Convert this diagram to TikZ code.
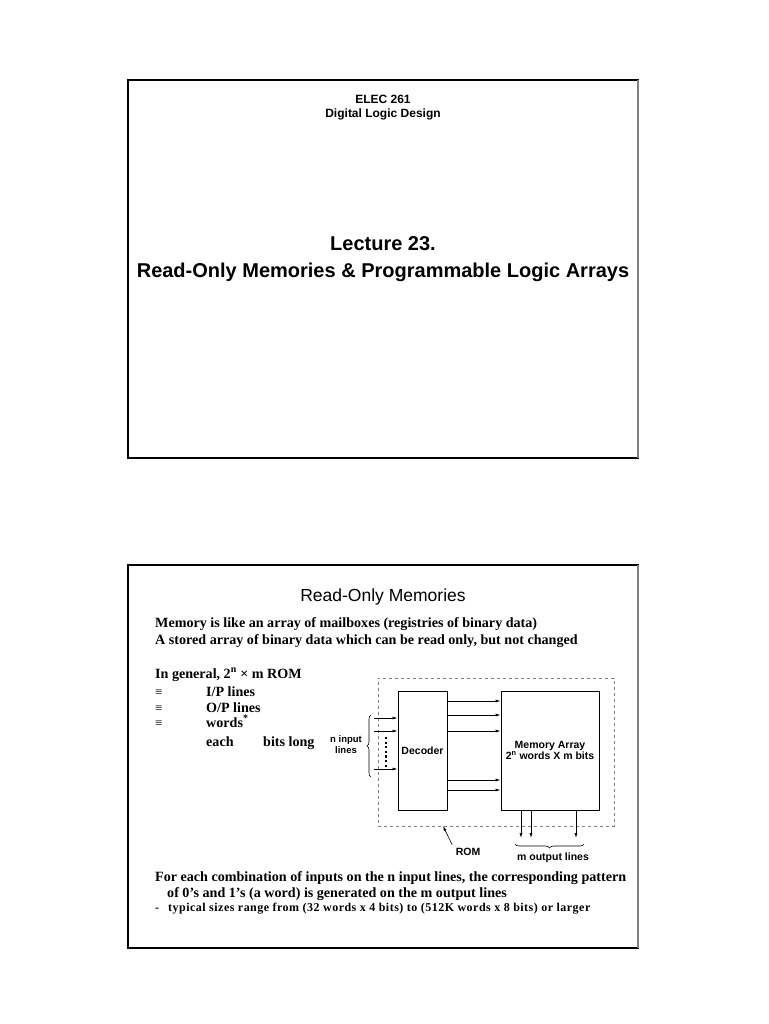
\documentclass[tikz,border=0pt]{standalone}
\usepackage{fontspec}
\setmainfont{Liberation Serif}
\newfontfamily\arial{Liberation Sans}
\usetikzlibrary{positioning,arrows.meta,decorations.pathreplacing}

\tikzset{
	frame/.style={line width=1.5pt},
	hd/.style={font=\arial\bfseries\fontsize{12}{14}\selectfont},
	big/.style={font=\arial\bfseries\fontsize{20}{24}\selectfont},
	txt/.style={anchor=base west,inner sep=0pt,font=\bfseries\fontsize{14.1}{16}\selectfont},
	small/.style={txt,font=\bfseries\fontsize{12}{14}\selectfont\addfontfeature{LetterSpace=4}},
	lbl/.style={font=\arial\bfseries\fontsize{10.5}{11}\selectfont},
	blk/.style={draw,line width=1pt,inner sep=0pt},
	arr/.style={-{Latex[length=5pt,width=3pt]},line width=0.6pt}
}

\begin{document}
\begin{tikzpicture}[x=1pt,y=-1pt]
	
	\useasboundingbox (0,0) rectangle (768,1024);
	
	\draw[frame] (128,80) rectangle (638,458);
	\draw[frame,gray] (638,80) -- (638,458);
	\draw[frame] (128,565) rectangle (638,948);
	\draw[frame,gray] (638,565) -- (638,948);
	
	\node[hd] (A) at (383,99) {ELEC 261};
	\node[hd] (B) at (383,114) {Digital Logic Design};
	\node[big] (C) at (383,244) {Lecture 23.};
	\node[big] (D) at (383,272) {Read-Only Memories \& Programmable Logic Arrays};
	
	\node[
	font=\arial\fontsize{17.5}{19}\selectfont
	]
	(E)
	at (383,597)
	{Read-Only Memories};
	
	\node[txt] (F) at (155,627) {Memory is like an array of mailboxes (registries of binary data)};
	\node[txt] (G) at (155,644) {A stored array of binary data which can be read only, but not changed};
	\node[txt] (H) at (155,678) {In general, 2\textsuperscript{n} × m ROM};
	\foreach \y in {696,712,727}
	\node[txt,font=\fontsize{13}{15}\selectfont] at (155,\y) {≡};
	\node[txt] (I) at (206,696) {I/P lines};
	\node[txt] (J) at (206,712) {O/P lines};
	\node[txt] (K) at (206,727) {words\textsuperscript{*}};
	\node[txt] (L) at (206,746) {each};
	\node[txt] (M) at (263,746) {bits long};
	
	\node[
	blk,
	dashed,
	draw=gray,
	line width=0.8pt,
	minimum width=236pt,
	minimum height=148pt
	]
	(R)
	at (496,752)
	{};
	
	\node[
	blk,
	lbl,
	minimum width=49pt,
	minimum height=119pt
	]
	(Dec)
	at (422.5,750.5)
	{Decoder};
	
	\node[
	blk,
	lbl,
	align=center,
	minimum width=98pt,
	minimum height=119pt
	]
	(Mem)
	at (550,750.5)
	{Memory Array\\2\textsuperscript{n} words X m bits};
	
	\foreach \y in {701,715,731,780,790}
	\draw[arr] (Dec.east |- 0,\y) -- (Mem.west |- 0,\y);
	
	\node[lbl,align=center,font=\arial\bfseries\fontsize{9.5}{11}\selectfont] (N) at (346,745) {n input\\lines};
	\coordinate (i1) at (374,718);
	\coordinate (i2) at (374,731);
	\coordinate (i3) at (374,769);
	\foreach \c in {i1,i2,i3}
	\draw[arr] (\c) -- (Dec.west |- \c);
	\coordinate (d1) at (386,737);
	\coordinate (d2) at (386,767);
	\draw[line width=2.2pt,dash pattern=on 2.2pt off 2.4pt] (d1) -- (d2);
	\coordinate (b1) at (371,777);
	\coordinate (b2) at (371,715);
	\draw[decorate,decoration={brace,amplitude=4pt},line width=0.6pt] (b1) -- (b2);
	
	\coordinate (o1) at (521,838);
	\coordinate (o2) at (531,838);
	\coordinate (o3) at (576,838);
	\foreach \c in {o1,o2,o3}
	\draw[arr] (Mem.south -| \c) -- (\c);
	\coordinate (b3) at (584,844);
	\coordinate (b4) at (515,844);
	\draw[decorate,decoration={brace,amplitude=4pt},line width=0.6pt] (b3) -- (b4);
	\node[lbl] (O) at (553,858) {m output lines};
	
	\node[lbl] (P) at (468,852) {ROM};
	\coordinate (r) at (443,826);
	\draw[arr] (P.north west) -- (r);
	
	\node[txt] (Q) at (155,881) {For each combination of inputs on the n input lines, the corresponding pattern};
	\node[txt] (S) at (167,897) {of 0's and 1's (a word) is generated on the m output lines};
	\node[small] (T) at (155,911) {-};
	\node[small] (U) at (168,911) {typical sizes range from (32 words x 4 bits) to (512K words x 8 bits) or larger};
	
\end{tikzpicture}
\end{document}
